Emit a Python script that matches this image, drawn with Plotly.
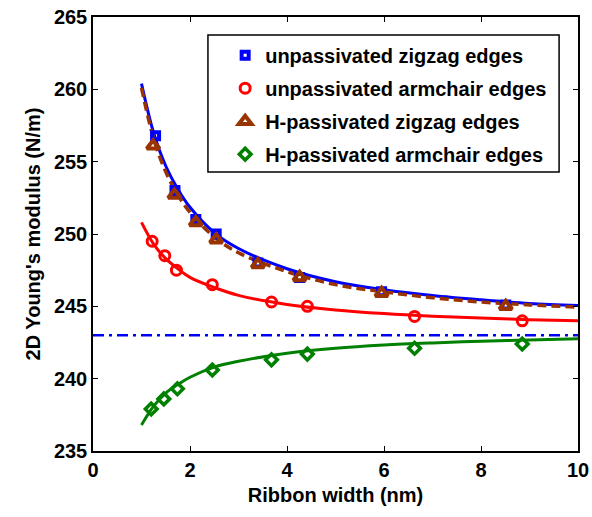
import plotly.graph_objects as go

# Data points
uz_x = [1.29, 1.69, 2.12, 2.54, 3.40, 4.26, 5.95, 8.51]
uz_y = [256.8, 253.0, 251.0, 250.0, 248.0, 247.0, 246.0, 245.1]

ua_x = [1.22, 1.48, 1.72, 2.46, 3.68, 4.42, 6.63, 8.85]
ua_y = [249.5, 248.5, 247.5, 246.5, 245.3, 245.0, 244.3, 244.0]

hz_x = [1.24, 1.68, 2.12, 2.54, 3.40, 4.26, 5.95, 8.51]
hz_y = [256.1, 252.7, 250.8, 249.6, 247.9, 247.0, 245.9, 245.0]

ha_x = [1.20, 1.46, 1.74, 2.46, 3.68, 4.42, 6.63, 8.85]
ha_y = [237.9, 238.6, 239.3, 240.6, 241.3, 241.7, 242.1, 242.4]

# Fitted curves
fit_x = [1.0, 1.25, 1.5, 1.75, 2.0, 2.5, 3.0, 4.0, 5.0, 6.0, 7.0, 8.0, 9.0, 10.0]
fit_uz = [260.4, 257.0, 254.7, 253.1, 251.85, 250.1, 249.0, 247.6, 246.7, 246.15, 245.75, 245.45, 245.2, 245.05]
fit_hz = [260.1, 256.6, 254.3, 252.7, 251.5, 249.8, 248.7, 247.4, 246.5, 246.0, 245.6, 245.3, 245.1, 244.95]
fit_ua = [250.8, 249.3, 248.3, 247.6, 247.0, 246.3, 245.76, 245.13, 244.75, 244.5, 244.32, 244.19, 244.08, 244.0]
fit_ha = [236.8, 238.1, 239.0, 239.6, 240.1, 240.8, 241.2, 241.76, 242.1, 242.32, 242.47, 242.59, 242.68, 242.76]

bulk_x = [0, 10]
bulk_y = [243.0, 243.0]

BLUE = "#0000FF"
RED = "#FF0000"
BROWN = "#993300"
GREEN = "#008000"

fig = go.Figure()

# curves
fig.add_trace(go.Scatter(x=bulk_x, y=bulk_y, mode="lines", showlegend=False,
                         line=dict(color=BLUE, width=2.5, dash="11px,5px,3px,5px")))
fig.add_trace(go.Scatter(x=fit_x, y=fit_uz, mode="lines", line_shape="spline", showlegend=False,
                         line=dict(color=BLUE, width=3)))
fig.add_trace(go.Scatter(x=fit_x, y=fit_ua, mode="lines", line_shape="spline", showlegend=False,
                         line=dict(color=RED, width=3)))
fig.add_trace(go.Scatter(x=fit_x, y=fit_hz, mode="lines", line_shape="spline", showlegend=False,
                         line=dict(color=BROWN, width=3.5, dash="9px,5px")))
fig.add_trace(go.Scatter(x=fit_x, y=fit_ha, mode="lines", line_shape="spline", showlegend=False,
                         line=dict(color=GREEN, width=3)))

# markers
fig.add_trace(go.Scatter(x=uz_x, y=uz_y, mode="markers", name="unpassivated zigzag edges", legendgroup="a",
                         marker=dict(symbol="square-open", size=7, color=BLUE, line=dict(width=4, color=BLUE))))
fig.add_trace(go.Scatter(x=ua_x, y=ua_y, mode="markers", name="unpassivated armchair edges", legendgroup="b",
                         marker=dict(symbol="circle-open", size=10, color=RED, line=dict(width=3, color=RED))))
fig.add_trace(go.Scatter(x=hz_x, y=hz_y, mode="markers", name="H-passivated zigzag edges", legendgroup="c",
                         marker=dict(symbol="triangle-up-open", size=11, color=BROWN, line=dict(width=4, color=BROWN))))
fig.add_trace(go.Scatter(x=ha_x, y=ha_y, mode="markers", name="H-passivated armchair edges", legendgroup="d",
                         marker=dict(symbol="diamond-open", size=9, color=GREEN, line=dict(width=3.5, color=GREEN))))

font_b = dict(family="Liberation Sans, Arial", size=20, color="black", weight="bold")

axis_common = dict(showline=True, linecolor="black", linewidth=1.5, mirror="ticks",
                   ticks="inside", ticklen=5, tickwidth=1, tickcolor="black",
                   showgrid=False, zeroline=False, tickfont=font_b, automargin=False)

fig.update_layout(
    width=592, height=517,
    margin=dict(l=93, r=14, t=17, b=66),
    paper_bgcolor="white", plot_bgcolor="white",
    showlegend=True,
    legend=dict(x=0.2725, y=0.957, xanchor="left", yanchor="top",
                borderwidth=0, bgcolor="rgba(0,0,0,0)",
                font=dict(family="Liberation Sans, Arial", size=20, color="black", weight="bold"),
                itemsizing="trace", traceorder="grouped", tracegroupgap=4),
    shapes=[dict(type="rect", xref="paper", yref="paper", x0=0.237, x1=0.961, y0=0.643, y1=0.9585,
                 line=dict(color="black", width=1.5), fillcolor="rgba(0,0,0,0)")],
    xaxis=dict(range=[0, 10], tickvals=[0, 2, 4, 6, 8, 10],
               title=dict(text="Ribbon width (nm)", font=font_b, standoff=8), **axis_common),
    yaxis=dict(range=[235, 265], tickvals=[235, 240, 245, 250, 255, 260, 265],
               title=dict(text="2D Young's modulus (N/m)", font=font_b, standoff=8), **axis_common),
)

fig.write_html("out.html")
